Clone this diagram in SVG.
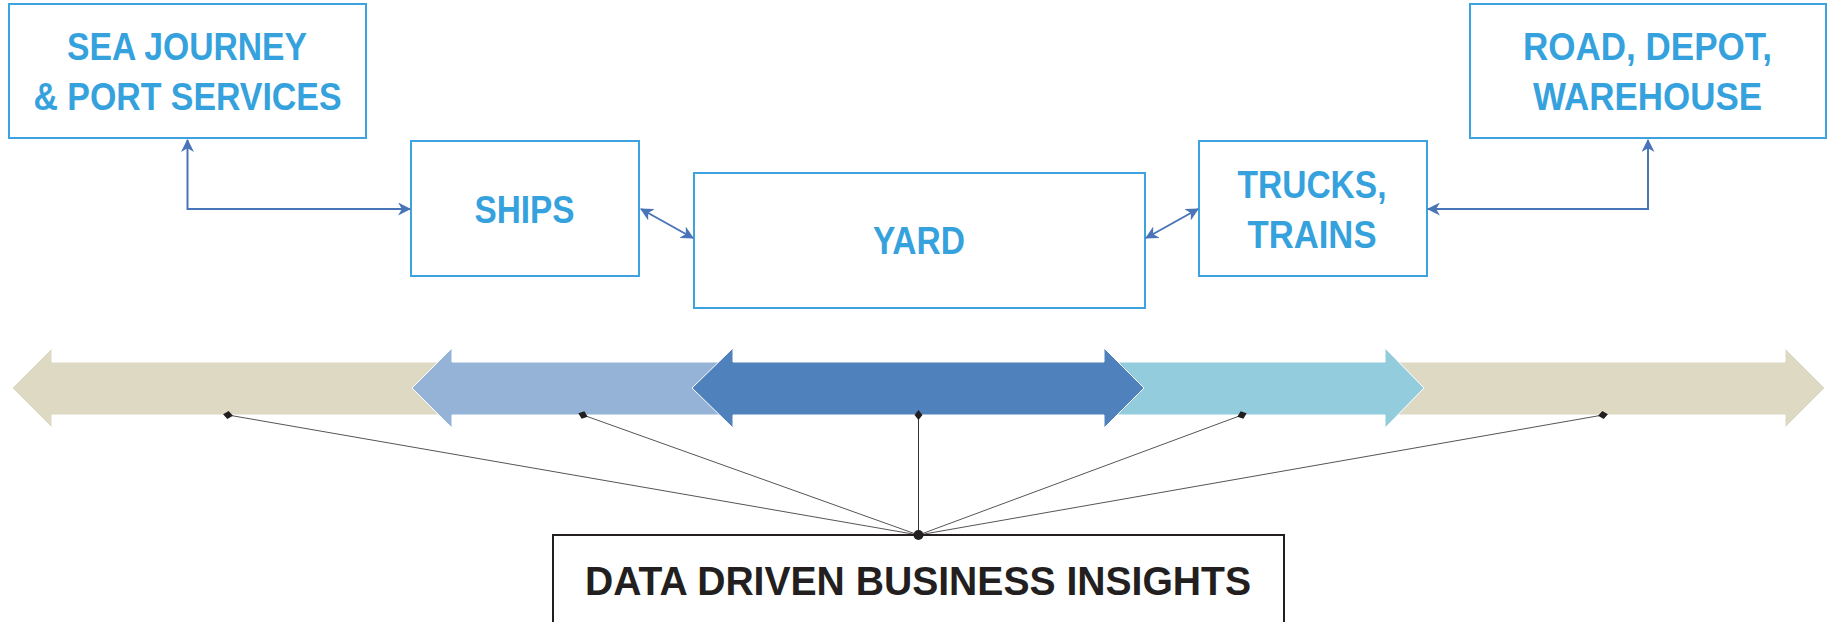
<svg xmlns="http://www.w3.org/2000/svg" width="1832" height="622" viewBox="0 0 1832 622">
<style>
.box{fill:#fff;stroke:#3da2e0;stroke-width:2}
.lbl{font-family:"Liberation Sans",Arial,sans-serif;font-weight:bold;font-size:38px;fill:#35a2dd;text-anchor:middle}
.conn{fill:none;stroke:#4a74b8;stroke-width:2}
.fan{stroke:#555;stroke-width:1;fill:none}
.band{stroke:#fff;stroke-width:1}
</style>
<defs>
<marker id="ah" viewBox="0 0 12 12" refX="11" refY="6" markerWidth="13" markerHeight="13" markerUnits="userSpaceOnUse" orient="auto-start-reverse">
<path d="M0,0 L12,6 L0,12 L3.5,6 z" fill="#4a74b8"/>
</marker>
<marker id="dia" viewBox="0 0 10 10" refX="5" refY="5" markerWidth="10" markerHeight="10" markerUnits="userSpaceOnUse" orient="auto">
<path d="M0,5 L5,1 L10,5 L5,9 z" fill="#231f20"/>
</marker>
</defs>

<g id="bands">
<polygon class="band" fill="#ddd9c3" points="12,388 52,348 52,362 1785,362 1785,348 1825,388 1785,428 1785,415 52,415 52,428"/>
<polygon class="band" fill="#95b3d7" points="412,388 452,348 452,362 760,362 760,415 452,415 452,428"/>
<polygon class="band" fill="#93cddd" points="1080,362 1385,362 1385,348 1424,388 1385,428 1385,415 1080,415"/>
<polygon class="band" fill="#4f81bd" points="692,388 733,348 733,362 1104,362 1104,348 1144,388 1104,428 1104,415 733,415 733,428"/>
</g>

<g id="fan-lines">
<line class="fan" x1="228" y1="415" x2="918.5" y2="535" marker-start="url(#dia)"/>
<line class="fan" x1="583" y1="415" x2="918.5" y2="535" marker-start="url(#dia)"/>
<line class="fan" x1="918.5" y1="415" x2="918.5" y2="535" marker-start="url(#dia)" style="stroke:#333"/>
<line class="fan" x1="1242" y1="415" x2="918.5" y2="535" marker-start="url(#dia)"/>
<line class="fan" x1="1603" y1="415" x2="918.5" y2="535" marker-start="url(#dia)"/>
</g>

<g id="insights">
<rect x="553" y="535" width="731" height="120" fill="#fff" stroke="#231f20" stroke-width="2"/>
<text x="918" y="595" textLength="666" lengthAdjust="spacingAndGlyphs" style="font-family:'Liberation Sans',Arial,sans-serif;font-weight:bold;font-size:40px;fill:#231f20;text-anchor:middle">DATA DRIVEN BUSINESS INSIGHTS</text>
</g>
<circle cx="918.5" cy="535" r="5" fill="#231f20"/>

<g id="sea">
<rect class="box" x="9" y="4" width="357" height="134"/>
<text class="lbl" x="187" y="60" textLength="240" lengthAdjust="spacingAndGlyphs">SEA JOURNEY</text>
<text class="lbl" x="187.5" y="110" textLength="308" lengthAdjust="spacingAndGlyphs">&amp; PORT SERVICES</text>
</g>
<g id="ships">
<rect class="box" x="411" y="141" width="228" height="135"/>
<text class="lbl" x="524.5" y="223" textLength="100" lengthAdjust="spacingAndGlyphs">SHIPS</text>
</g>
<g id="yard">
<rect class="box" x="694" y="173" width="451" height="135"/>
<text class="lbl" x="919" y="254" textLength="92" lengthAdjust="spacingAndGlyphs">YARD</text>
</g>
<g id="trucks">
<rect class="box" x="1199" y="141" width="228" height="135"/>
<text class="lbl" x="1312" y="198" textLength="149" lengthAdjust="spacingAndGlyphs">TRUCKS,</text>
<text class="lbl" x="1312" y="248" textLength="129" lengthAdjust="spacingAndGlyphs">TRAINS</text>
</g>
<g id="road">
<rect class="box" x="1470" y="4" width="356" height="134"/>
<text class="lbl" x="1647.5" y="60" textLength="249" lengthAdjust="spacingAndGlyphs">ROAD, DEPOT,</text>
<text class="lbl" x="1647.5" y="110" textLength="229" lengthAdjust="spacingAndGlyphs">WAREHOUSE</text>
</g>

<g id="connectors">
<path class="conn" d="M187.5,140 V209 H410" marker-start="url(#ah)" marker-end="url(#ah)"/>
<path class="conn" d="M641,209 L693,238" marker-start="url(#ah)" marker-end="url(#ah)"/>
<path class="conn" d="M1146,238 L1198,209" marker-start="url(#ah)" marker-end="url(#ah)"/>
<path class="conn" d="M1428,209 H1648 V140" marker-start="url(#ah)" marker-end="url(#ah)"/>
</g>
</svg>
